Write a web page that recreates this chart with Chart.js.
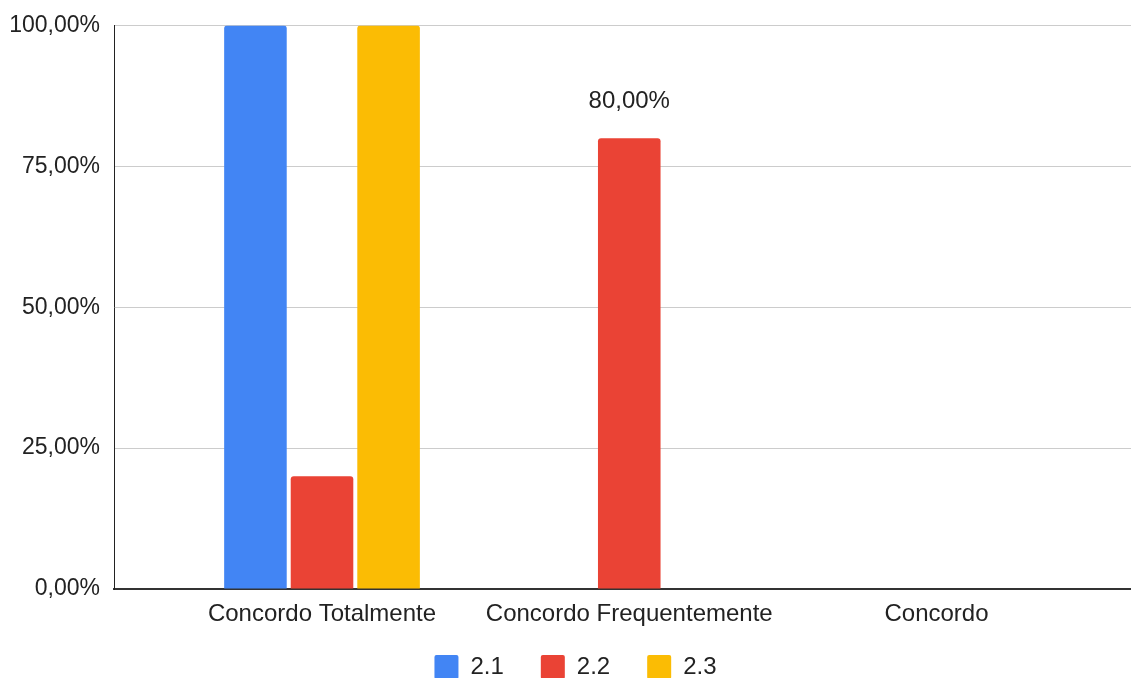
<!DOCTYPE html>
<html>
<head>
<meta charset="utf-8">
<script src="https://cdn.jsdelivr.net/npm/chart.js@4"></script>
<style>
  html, body { margin: 0; padding: 0; background: #fff; }
  #wrap { width: 1131px; height: 678px; }
</style>
</head>
<body>
<div id="wrap"><canvas id="chart"></canvas></div>
<script>
const categories = ['Concordo Totalmente', 'Concordo Frequentemente', 'Concordo'];
const seriesNames = ['2.1', '2.2', '2.3'];
const serie21 = [100, 0, 0];
const serie22 = [20, 80, 0];
const serie23 = [100, 0, 0];
const yTicks = [0, 25, 50, 75, 100];
// which bars carry a value label: [dataset, index]
const labeledBars = [[1, 1]];

const colors = ['#4285F4', '#EA4335', '#FBBC04'];
const FONT = 'Arial, "Liberation Sans", sans-serif';
const fmt = v => v.toFixed(2).replace('.', ',') + '%';

const toPoints = arr => arr.map((v, i) => ({ x: i, y: v }));

const valueLabels = {
  id: 'valueLabels',
  afterDatasetsDraw(chart) {
    const ctx = chart.ctx;
    ctx.save();
    ctx.font = '24px ' + FONT;
    ctx.fillStyle = '#222';
    ctx.textAlign = 'center';
    ctx.textBaseline = 'alphabetic';
    labeledBars.forEach(([d, i]) => {
      const bar = chart.getDatasetMeta(d).data[i];
      const v = chart.data.datasets[d].data[i].y;
      ctx.fillText(fmt(v), bar.x, bar.y - 30);
    });
    ctx.restore();
  }
};

// nudge the legend row a bit to the right, like the original
const legendShift = {
  id: 'legendShift',
  afterLayout(chart) {
    if (chart.legend) {
      chart.legend.left += 10;
      chart.legend.right += 10;
    }
  }
};

new Chart(document.getElementById('chart'), {
  type: 'bar',
  data: {
    datasets: [serie21, serie22, serie23].map((s, k) => ({
      label: seriesNames[k],
      data: toPoints(s),
      backgroundColor: colors[k],
      borderRadius: 3,
      categoryPercentage: 0.65,
      barPercentage: 0.94
    }))
  },
  options: {
    responsive: true,
    maintainAspectRatio: false,
    animation: false,
    layout: { padding: { top: 23, left: 0, right: 0, bottom: 0 } },
    plugins: {
      legend: {
        position: 'bottom',
        maxHeight: 60,
        labels: {
          boxWidth: 24,
          boxHeight: 24,
          useBorderRadius: true,
          borderRadius: 2,
          padding: 37,
          color: '#222',
          font: { family: FONT, size: 24 }
        }
      },
      tooltip: { enabled: false }
    },
    scales: {
      x: {
        type: 'linear',
        offset: false,
        min: -0.677,
        max: 2.633,
        afterBuildTicks: s => { s.ticks = categories.map((c, i) => ({ value: i })); },
        afterFit: s => {
          s.height = 29;
          s._computeLabelArea = () => undefined; // let labels overflow the short axis box
        },
        grid: { display: false, drawTicks: false },
        border: { display: true, color: '#333', width: 2 },
        ticks: {
          autoSkip: false,
          maxRotation: 0,
          padding: 11,
          color: '#222',
          font: { family: FONT, size: 24 },
          callback: v => categories[v]
        }
      },
      y: {
        min: 0,
        max: 100,
        afterBuildTicks: s => { s.ticks = yTicks.map(v => ({ value: v })); },
        afterFit: s => { s.width = 114; },
        grid: { color: '#ccc', lineWidth: 1, drawTicks: false },
        border: { display: true, color: '#222', width: 1 },
        ticks: {
          padding: 14,
          color: '#222',
          font: { family: FONT, size: 23, lineHeight: 1 },
          callback: v => fmt(v)
        }
      }
    }
  },
  plugins: [valueLabels, legendShift]
});
</script>
</body>
</html>
